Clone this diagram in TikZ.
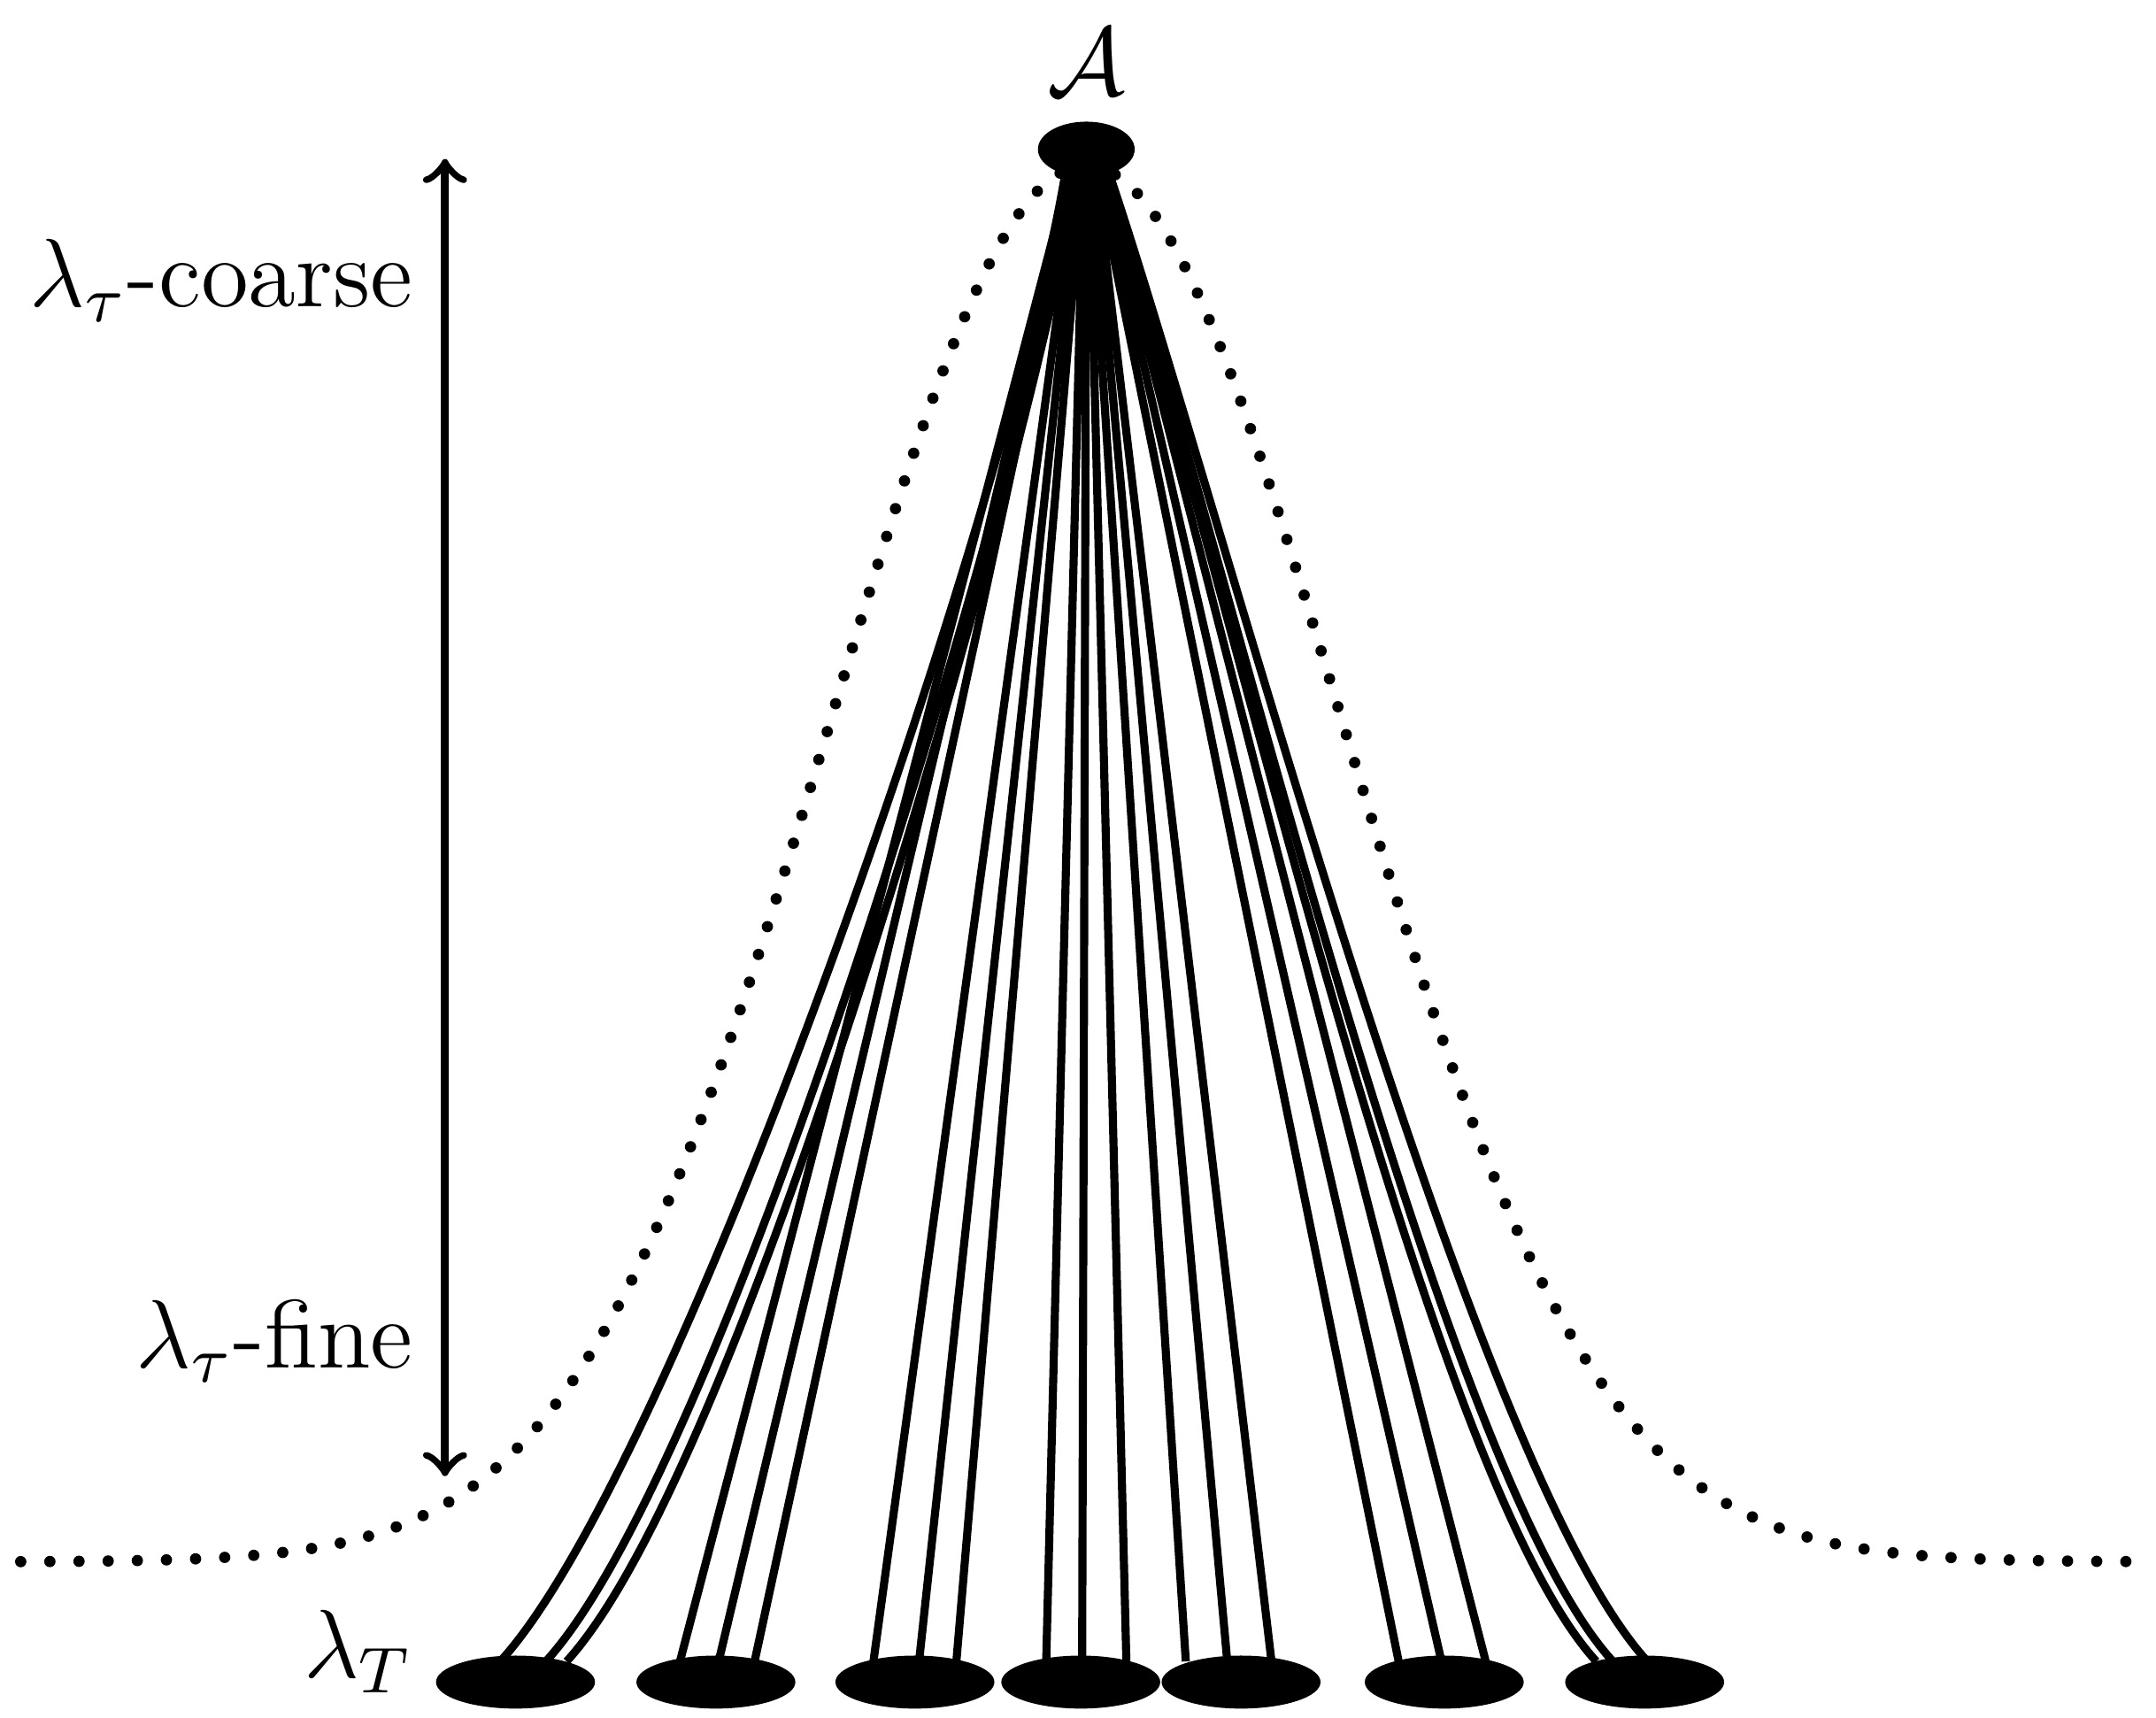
\documentclass[tikz,border=0pt]{standalone}
\usetikzlibrary{shapes.geometric}
\begin{document}
\begin{tikzpicture}[x=0.06mm,y=-0.06mm,
  blob/.style={ellipse,fill=black,inner sep=0pt,minimum width=6.9mm,minimum height=2.3mm},
  ray/.style={line width=1pt},
  dotline/.style={line width=1.4pt,line cap=round,dash pattern=on 0pt off 3.6pt},
  lab/.style={inner sep=0pt,font=\large}]
\useasboundingbox (0,0) rectangle (1560,1243);
\node[ellipse,fill=black,inner sep=0pt,minimum width=4.2mm,minimum height=2.4mm] (top) at (786,108) {};
\node[lab] (A) at (786,45) {$\mathcal{A}$};
\foreach \i/\x in {1/373,2/518,3/662,4/782,5/898,6/1045,7/1190}
  \node[blob] (b\i) at (\x,1217) {};
% dotted gaussian
\draw[dotline] plot[domain=15:1550,samples=220,smooth] (\x,{1130-1010*exp(-((\x-786)/260)^2)});
% curved outer rays
\foreach \x/\t in {362/772,395/778,410/782}
  \draw[ray] (\x,1202) .. controls ({\x+130},1060) and ({\x*0.1+700},350) .. (\t,118);
\foreach \x/\t in {1155/792,1167/796,1192/800}
  \draw[ray] (\x,1202) .. controls ({\x-130},1060) and ({\x*0.1+760},350) .. (\t,118);
% straight rays
\foreach \x/\t in {492/776,520/778,546/780,632/780,665/782,692/784,757/784,783/786,815/788,858/788,888/790,920/792,1012/792,1043/794,1075/796}
  \draw[ray] (\x,1202) -- (\t,118);
% arrow
\coordinate (up) at (322,115);
\coordinate (dn) at (322,1068);
\draw[line width=1pt,<->,>=to] (up) -- (dn);
\node[lab,anchor=east] (c) at (300,203) {$\lambda_\tau$-coarse};
\node[lab,anchor=east] (f) at (300,970) {$\lambda_\tau$-fine};
\node[lab,anchor=east] (T) at (300,1195) {$\lambda_T$};
\end{tikzpicture}
\end{document}
